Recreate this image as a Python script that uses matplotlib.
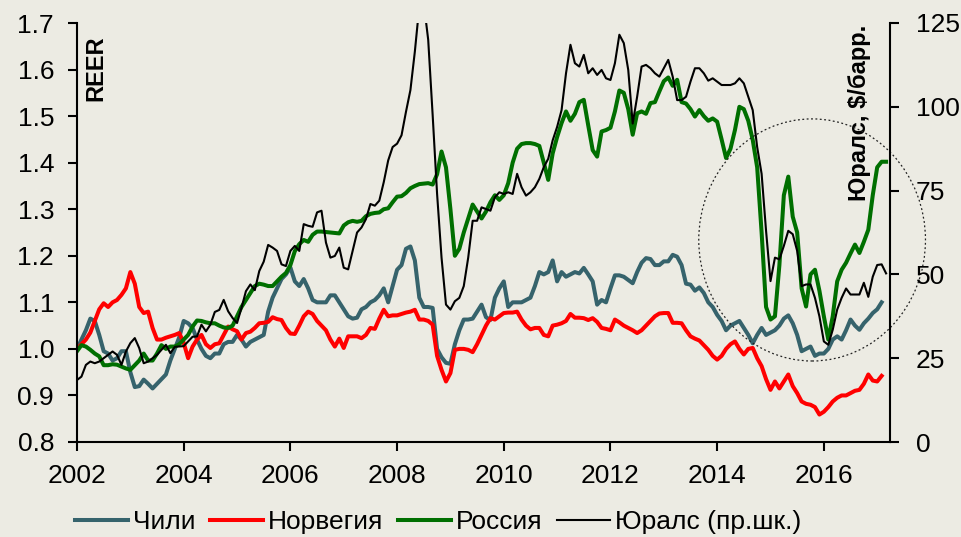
import numpy as np
import matplotlib
matplotlib.use("Agg")
import matplotlib.pyplot as plt
from matplotlib.patches import Ellipse
from matplotlib.ticker import FormatStrFormatter

plt.rcParams['font.family'] = ['Liberation Sans', 'DejaVu Sans']

# monthly data, first point = January 2002
start_year = 2002

chile = [
    1.00, 1.02, 1.04, 1.065, 1.06, 1.03, 0.995, 0.99, 0.975, 0.98, 0.995, 0.995,
    0.95, 0.918, 0.92, 0.934, 0.925, 0.915, 0.925, 0.935, 0.945, 0.975, 1.0, 1.025,
    1.06, 1.055, 1.045, 1.02, 1.0, 0.985, 0.98, 0.99, 0.99, 1.01, 1.015, 1.015,
    1.03, 1.02, 1.005, 1.015, 1.02, 1.025, 1.03, 1.08, 1.11, 1.13, 1.15, 1.16,
    1.175, 1.145, 1.135, 1.15, 1.13, 1.105, 1.10, 1.10, 1.10, 1.115, 1.115, 1.10,
    1.085, 1.07, 1.065, 1.067, 1.085, 1.09, 1.10, 1.105, 1.115, 1.13, 1.10, 1.135,
    1.17, 1.18, 1.215, 1.22, 1.19, 1.11, 1.09, 1.09, 1.088, 1.0, 0.982, 0.97,
    0.968, 1.01, 1.04, 1.063, 1.063, 1.065, 1.08, 1.095, 1.068, 1.062, 1.11, 1.13,
    1.145, 1.09, 1.10, 1.10, 1.10, 1.105, 1.11, 1.135, 1.165, 1.16, 1.165, 1.19,
    1.145, 1.165, 1.155, 1.16, 1.165, 1.162, 1.174, 1.16, 1.145, 1.095, 1.105, 1.10,
    1.13, 1.158, 1.158, 1.155, 1.148, 1.141, 1.165, 1.185, 1.195, 1.193, 1.18, 1.18,
    1.188, 1.188, 1.202, 1.198, 1.18, 1.14, 1.138, 1.125, 1.132, 1.12, 1.10, 1.09,
    1.073, 1.06, 1.04, 1.05, 1.055, 1.06, 1.045, 1.03, 1.012, 1.03, 1.045, 1.03,
    1.035, 1.04, 1.05, 1.065, 1.072, 1.055, 1.03, 0.995, 1.0, 1.005, 0.985, 0.99,
    0.99, 1.0, 1.02, 1.027, 1.02, 1.04, 1.063, 1.05, 1.041, 1.055, 1.065, 1.077,
    1.085, 1.10,
]

norway = [
    1.00, 1.01, 1.02, 1.035, 1.06, 1.085, 1.098, 1.09, 1.10, 1.105, 1.116, 1.13,
    1.165, 1.14, 1.09, 1.077, 1.08, 1.045, 1.02, 1.02, 1.024, 1.027, 1.03, 1.034,
    1.013, 0.98, 1.005, 1.02, 1.03, 1.01, 1.002, 1.01, 1.012, 1.03, 1.048, 1.042,
    1.038, 1.02, 1.034, 1.037, 1.045, 1.055, 1.056, 1.058, 1.068, 1.064, 1.062, 1.045,
    1.033, 1.032, 1.05, 1.07, 1.08, 1.075, 1.06, 1.05, 1.04, 1.02, 1.005, 1.022,
    1.002, 1.027, 1.027, 1.027, 1.023, 1.03, 1.045, 1.043, 1.065, 1.084, 1.07, 1.072,
    1.072, 1.075, 1.078, 1.08, 1.084, 1.063, 1.063, 1.06, 1.052, 0.985, 0.955, 0.93,
    0.948, 0.998, 1.0, 1.0, 0.998, 0.993, 1.01, 1.03, 1.05, 1.066, 1.063, 1.07,
    1.077, 1.078, 1.078, 1.08, 1.063, 1.05, 1.042, 1.045, 1.045, 1.03, 1.027, 1.05,
    1.052, 1.055, 1.06, 1.075, 1.067, 1.067, 1.066, 1.062, 1.066, 1.058, 1.045, 1.043,
    1.04, 1.063, 1.057, 1.05, 1.045, 1.04, 1.034, 1.04, 1.05, 1.06, 1.07, 1.076,
    1.077, 1.077, 1.056, 1.056, 1.055, 1.04, 1.027, 1.022, 1.018, 1.008, 0.998, 0.985,
    0.977, 0.985, 1.0, 1.01, 1.016, 1.0, 0.988, 1.0, 1.002, 0.98, 0.963, 0.935,
    0.912, 0.93, 0.915, 0.93, 0.945, 0.92, 0.905, 0.887, 0.882, 0.88, 0.875, 0.859,
    0.865, 0.875, 0.887, 0.895, 0.9, 0.9, 0.905, 0.91, 0.912, 0.925, 0.945, 0.932,
    0.93, 0.942,
]

russia = [
    0.995, 1.008, 1.005, 0.998, 0.99, 0.984, 0.965, 0.965, 0.967, 0.966, 0.962, 0.958,
    0.955, 0.965, 0.975, 0.99, 0.975, 0.975, 0.99, 1.008, 1.0, 1.005, 1.005, 1.01,
    1.02, 1.03, 1.048, 1.061, 1.06, 1.057, 1.055, 1.055, 1.05, 1.046, 1.045, 1.05,
    1.07, 1.09, 1.105, 1.12, 1.135, 1.14, 1.138, 1.135, 1.135, 1.145, 1.155, 1.163,
    1.18, 1.21, 1.225, 1.234, 1.23, 1.245, 1.252, 1.252, 1.251, 1.25, 1.249, 1.248,
    1.265, 1.272, 1.275, 1.273, 1.275, 1.285, 1.29, 1.292, 1.293, 1.30, 1.302, 1.315,
    1.327, 1.328, 1.335, 1.345, 1.35, 1.354, 1.355, 1.356, 1.353, 1.375, 1.424, 1.39,
    1.30, 1.20, 1.215, 1.25, 1.28, 1.31, 1.295, 1.28, 1.295, 1.315, 1.33, 1.32,
    1.33, 1.356, 1.40, 1.43, 1.44, 1.442, 1.442, 1.44, 1.436, 1.40, 1.363, 1.42,
    1.455, 1.485, 1.51, 1.49, 1.505, 1.53, 1.535, 1.48, 1.427, 1.413, 1.467, 1.47,
    1.475, 1.51, 1.555, 1.55, 1.515, 1.46, 1.506, 1.51, 1.505, 1.528, 1.53, 1.553,
    1.575, 1.583, 1.565, 1.578, 1.53, 1.527, 1.515, 1.499, 1.513, 1.50, 1.49, 1.495,
    1.488, 1.45, 1.41, 1.43, 1.47, 1.52, 1.515, 1.49, 1.449, 1.39, 1.25, 1.09,
    1.063, 1.07, 1.18, 1.33, 1.37, 1.284, 1.25, 1.13, 1.091, 1.16, 1.17, 1.125,
    1.07, 1.02, 1.07, 1.145, 1.17, 1.185, 1.205, 1.224, 1.206, 1.23, 1.256, 1.33,
    1.39, 1.402, 1.402,
]

urals = [
    18.5, 19.5, 23, 24, 23.5, 24, 25, 26, 27, 26, 23, 27,
    29.5, 31, 28, 23.5, 24, 25, 26, 27.5, 29, 26.5, 28.4, 28.5,
    28.6, 30, 31.4, 31.5, 35, 33, 35, 38.8, 39.4, 42.4, 39, 37,
    35.5, 40, 45, 47, 45.3, 51, 53.8, 58.8, 58, 57, 53, 52.5,
    57, 58.5, 57, 65, 64.5, 64.2, 68.5, 69, 59.5, 55, 55.5, 58,
    52, 51.5, 57, 62.5, 64, 66.5, 71, 70.5, 72, 77.5, 84, 88,
    89, 91.5, 98.5, 105, 116.5, 130, 131, 120, 97.6, 74, 55, 41,
    39.5, 42, 43, 46.5, 55, 66, 66, 70, 69.5, 69, 73, 74.5,
    74, 74.5, 74, 80, 76, 73.5, 74.5, 76, 78.5, 82, 84.5, 90,
    94, 99, 110, 118.5, 113, 112, 115.5, 110, 111.5, 109.5, 111, 108.5,
    108, 113, 121.5, 119, 111, 95, 103, 112, 112.5, 111.5, 110, 109,
    111.5, 114, 109, 102, 102, 103, 107.5, 111.5, 111.5, 110, 107.8, 108.5,
    107.5, 106.5, 106.5, 106.5, 107, 108.5, 107, 103, 99, 88, 80, 63,
    48, 55, 54.5, 58.5, 63, 62, 57, 46.5, 47, 47, 43, 37.5,
    30, 29, 33.5, 39.5, 43, 45.8, 44, 44, 44, 47.5, 43.3, 49.3,
    52.8, 53, 50.3,
]

labels = ["Чили", "Норвегия", "Россия", "Юралс (пр.шк.)"]
colors = ["#36636C", "#FF0000", "#006F00", "#000000"]


def month_axis(series):
    return start_year + np.arange(len(series)) / 12.0


bg = "#ECEBE3"
fig = plt.figure(figsize=(9.61, 5.37), dpi=100, facecolor=bg)
ax = fig.add_axes([77 / 961, 1 - 442 / 537, 813 / 961, 419 / 537])
ax.set_facecolor(bg)
ax2 = ax.twinx()

handles = []
for data, col, lab in zip([chile, norway, russia], colors[:3], labels[:3]):
    h, = ax.plot(month_axis(data), data, color=col, lw=2.9, label=lab,
                 solid_joinstyle="round")
    handles.append(h)
h, = ax2.plot(month_axis(urals), urals, color=colors[3], lw=1.5, label=labels[3])
handles.append(h)

ax.set_xlim(2002, 2017.24)
ax.set_ylim(0.8, 1.7)
ax2.set_ylim(0, 125)
ax.set_xticks(range(2002, 2017, 2))
ax.set_yticks(np.arange(0.8, 1.71, 0.1))
ax2.set_yticks(range(0, 126, 25))
ax.yaxis.set_major_formatter(FormatStrFormatter("%.1f"))

for a in (ax, ax2):
    a.spines["top"].set_visible(False)
    for s in a.spines.values():
        s.set_linewidth(1.5)
        s.set_color("black")
ax.spines["right"].set_visible(False)
ax2.spines["left"].set_visible(False)
ax2.spines["bottom"].set_visible(False)

ax.tick_params(axis="y", direction="out", length=6.5, width=1.5, labelsize=19, pad=10)
ax.tick_params(axis="x", direction="out", length=6.5, width=1.5, labelsize=19, pad=9)
ax2.tick_params(axis="y", direction="out", length=6.5, width=1.5, labelsize=19, pad=12)

ax.text(0.0234, 0.971, "REER", transform=ax.transAxes, rotation=90, ha="center",
        va="top", fontsize=17, fontweight="bold")
ax.text(0.963, 0.995, "Юралс, $/барр.", transform=ax.transAxes, rotation=90,
        ha="center", va="top", fontsize=17, fontweight="bold")

# dotted circle around the 2015-2016 oil slump
ax.add_patch(Ellipse((2015.78, 1.234), 4.25, 0.52, fill=False, ls=(0, (1.5, 2)),
                     lw=0.9, color="#222222", clip_on=False, zorder=5))

fig.legend(handles, labels, ncol=4, loc="center left",
           bbox_to_anchor=(75 / 961, 1 - 522 / 537), frameon=False, fontsize=19,
           handlelength=2.0, handletextpad=0.2, columnspacing=0.55,
           borderaxespad=0, borderpad=0)

fig.savefig("out.png", dpi=100, facecolor=bg)
